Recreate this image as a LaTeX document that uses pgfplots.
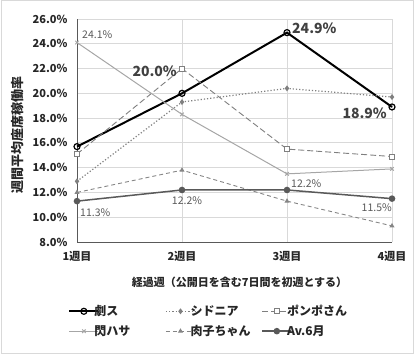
\documentclass[border=0pt]{standalone}
\usepackage{fontspec}
\setmainfont{Noto Sans CJK JP}
\usepackage{pgfplots}
\pgfplotsset{compat=1.18}
\definecolor{gridc}{HTML}{D9D9D9}
\definecolor{axc}{HTML}{595959}
\definecolor{txt}{HTML}{262626}
\definecolor{lab}{HTML}{404040}
\definecolor{g1}{HTML}{7F7F7F}
\definecolor{g2}{HTML}{A6A6A6}
\definecolor{g3}{HTML}{595959}
\newcommand{\legtxt}[2]{\makebox[#1][l]{\hspace*{-6pt}#2}}
\begin{document}
\begin{tikzpicture}
\useasboundingbox (0,0) rectangle (414pt,354pt);
\draw[gridc, line width=1pt] (1pt,1pt) rectangle (413pt,353pt);
\begin{axis}[
  at={(77pt,112pt)}, anchor=south west,
  scale only axis, width=315pt, height=223pt,
  xmin=0, xmax=3, ymin=8, ymax=26,
  xtick={0,1,2,3}, xticklabels={1週目,2週目,3週目,4週目},
  ytick={8,10,...,26},
  yticklabel={\pgfmathprintnumber[fixed,fixed zerofill,precision=1]{\tick}\%},
  /pgf/number format/assume math mode=true,
  axis x line=bottom, axis y line=left,
  axis line style={axc, line width=1pt, -},
  major tick length=0pt,
  grid=major, major grid style={gridc, line width=0.8pt},
  tick label style={font=\fontsize{11}{13}\selectfont\bfseries, text=txt},
  yticklabel style={xshift=-6pt},
  xticklabel style={yshift=-6pt},
  xlabel={経過週（公開日を含む7日間を初週とする）},
  ylabel={週間平均座席稼働率},
  every axis x label/.style={at={(axis description cs:0.5,0)}, xshift=5pt, yshift=-40pt, anchor=center, font=\fontsize{11}{13}\selectfont\bfseries, text=txt},
  every axis y label/.style={at={(axis description cs:0,0.5)}, xshift=-59pt, yshift=-4pt, rotate=90, anchor=center, font=\fontsize{13}{15}\selectfont\bfseries, text=txt},
  legend columns=3,
  legend style={at={(axis description cs:-0.028,-0.355)}, anchor=west, draw=none, fill=none, inner sep=0pt,
    font=\fontsize{12}{14}\selectfont\bfseries, text=txt, nodes={inner sep=1pt},
    row sep=6pt},
  legend cell align=left,
  legend image code/.code={\draw[mark repeat=2,mark phase=2] plot coordinates {(0pt,0pt)(14.5pt,0pt)(29pt,0pt)};},
  clip=false,
]
\addplot[black, line width=2pt, mark=o, mark size=3pt, mark options={solid, fill=white, line width=1.2pt}]
  coordinates {(0,15.7)(1,20.0)(2,24.9)(3,18.9)};
\addlegendentry{\legtxt{64pt}{劇ス}}
\addplot[g1, line width=1.2pt, dotted, mark=diamond*, mark size=2pt, mark options={solid}]
  coordinates {(0,12.9)(1,19.3)(2,20.4)(3,19.7)};
\addlegendentry{\legtxt{64pt}{シドニア}}
\addplot[g1, line width=0.9pt, dash pattern=on 6pt off 3pt, mark=square*, mark size=2.5pt, mark options={solid, fill=white, line width=0.8pt}]
  coordinates {(0,15.1)(1,22.0)(2,15.5)(3,14.9)};
\addlegendentry{\legtxt{62pt}{ポンポさん}}
\addplot[g2, line width=1pt, mark=x, mark size=2.5pt, mark options={solid}]
  coordinates {(0,24.1)(1,18.3)(2,13.5)(3,13.9)};
\addlegendentry{\legtxt{64pt}{閃ハサ}}
\addplot[g2!80!black, line width=0.9pt, dash pattern=on 4pt off 3pt, mark=triangle*, mark size=2pt, mark options={solid}]
  coordinates {(0,12.0)(1,13.8)(2,11.3)(3,9.3)};
\addlegendentry{\legtxt{64pt}{肉子ちゃん}}
\addplot[g3, line width=1.5pt, mark=*, mark size=2.5pt, mark options={solid}]
  coordinates {(0,11.3)(1,12.2)(2,12.2)(3,11.5)};
\addlegendentry{\legtxt{62pt}{Av.6月}}
% data labels
\node[anchor=south east, font=\fontsize{14}{16}\selectfont\bfseries, text=lab, inner sep=0pt] at (axis cs:1,20.0) [xshift=-5pt, yshift=16pt] {20.0\%};
\node[anchor=west, font=\fontsize{14}{16}\selectfont\bfseries, text=lab, inner sep=0pt] at (axis cs:2,24.9) [xshift=5pt, yshift=4pt] {24.9\%};
\node[anchor=east, font=\fontsize{14}{16}\selectfont\bfseries, text=lab, inner sep=0pt] at (axis cs:3,18.9) [xshift=-5pt, yshift=-6pt] {18.9\%};
\node[anchor=west, font=\fontsize{10.5}{12}\selectfont, text=g3, inner sep=0pt] at (axis cs:0,24.1) [xshift=5pt, yshift=8pt] {24.1\%};
\node[anchor=west, font=\fontsize{10.5}{12}\selectfont, text=g3, inner sep=0pt] at (axis cs:0,11.3) [xshift=3pt, yshift=-12pt] {11.3\%};
\node[anchor=center, font=\fontsize{10.5}{12}\selectfont, text=g3, inner sep=0pt] at (axis cs:1,12.2) [xshift=5pt, yshift=-11pt] {12.2\%};
\node[anchor=west, font=\fontsize{10.5}{12}\selectfont, text=g3, inner sep=0pt] at (axis cs:2,12.2) [xshift=4pt, yshift=6pt] {12.2\%};
\node[anchor=east, font=\fontsize{10.5}{12}\selectfont, text=g3, inner sep=0pt] at (axis cs:3,11.5) [xshift=0pt, yshift=-9pt] {11.5\%};
\end{axis}
\end{tikzpicture}
\end{document}
